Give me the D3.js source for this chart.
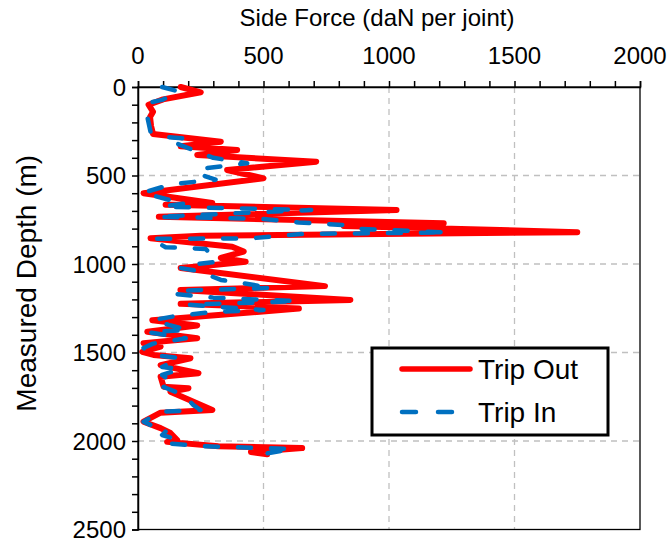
<!DOCTYPE html>
<html>
<head>
<meta charset="utf-8">
<script src="https://cdn.jsdelivr.net/npm/d3@7"></script>
<style>
    body { margin: 0; background: #fff; }
    text { font-family: "Liberation Sans", Arial, sans-serif; fill: #000; }
</style>
</head>
<body>
<div id="chart"></div>
<script>
// measured depth (m) and side force (daN per joint)
const depthOut = [0, 30, 70, 100, 140, 170, 220, 265, 309, 335, 356, 384, 422, 469, 516, 600, 655, 665, 695, 733,
    770, 785, 820, 840, 855, 902, 930, 966, 987, 1006, 1023, 1125, 1147, 1203, 1225, 1252, 1318, 1347, 1383, 1420,
    1447, 1467, 1496, 1514, 1533, 1571, 1617, 1637, 1693, 1702, 1722, 1758, 1825, 1840, 1891, 1927, 1955, 1995, 2005,
    2030, 2040, 2062, 2075];
const forceOut = [170, 250, 100, 42, 60, 48, 52, 60, 330, 170, 395, 236, 710, 355, 500, 22, 296, 110, 1030, 83,
    1218, 820, 1750, 250, 50, 375, 421, 330, 429, 301, 170, 745, 169, 846, 170, 641, 57, 236, 37, 236,
    22, 90, 17, 62, 209, 90, 241, 90, 102, 201, 129, 189, 296, 90, 22, 90, 129, 156, 116,
    320, 654, 450, 515];

const depthIn = [0, 26, 73, 90, 168, 253, 281, 290, 305, 345, 400, 431, 460, 488, 524, 545, 563, 598, 640, 657,
    676, 695, 733, 745, 765, 780, 800, 822, 830, 855, 858, 905, 915, 987, 1005, 1023, 1040, 1090, 1105, 1135,
    1150, 1168, 1190, 1210, 1230, 1260, 1271, 1294, 1316, 1344, 1373, 1385, 1420, 1450, 1475, 1514, 1531, 1582, 1593, 1627,
    1672, 1695, 1740, 1797, 1825, 1835, 1891, 1927, 1938, 1966, 1989, 2013, 2030, 2045, 2075, 2103];
const forceIn = [96, 163, 96, 42, 37, 50, 102, 176, 130, 200, 300, 435, 260, 236, 309, 160, 102, 20, 130, 190,
    100, 690, 76, 490, 640, 820, 860, 1232, 650, 450, 50, 110, 270, 316, 200, 170, 240, 330, 400, 535,
    180, 140, 300, 635, 200, 500, 300, 150, 62, 122, 200, 40, 190, 60, 22, 62, 165, 96, 170, 96,
    141, 102, 181, 221, 249, 90, 22, 76, 116, 96, 149, 116, 260, 614, 495, 521];

const forceTicks = [0, 500, 1000, 1500, 2000];
const depthTicks = [0, 500, 1000, 1500, 2000, 2500];

const seriesNames = ["Trip Out", "Trip In"];
const seriesColors = ["#ff0000", "#0070c0"];

class sideForceChart {
    constructor(parentElement) {
        this.parentElement = parentElement;
        this.series = [
            {name: seriesNames[0], color: seriesColors[0], values: depthOut.map((d, i) => ({depth: d, force: forceOut[i]}))},
            {name: seriesNames[1], color: seriesColors[1], values: depthIn.map((d, i) => ({depth: d, force: forceIn[i]}))}
        ];
    }

    initVis() {
        let vis = this;

        vis.margin = {top: 87, right: 31, bottom: 12.5, left: 138};
        vis.width = 671 - vis.margin.left - vis.margin.right;
        vis.height = 542 - vis.margin.top - vis.margin.bottom;

        vis.svg = d3.select("#" + vis.parentElement).append("svg")
            .attr("width", 671)
            .attr("height", 542)
            .append("g")
            .attr("transform", "translate(" + vis.margin.left + "," + vis.margin.top + ")");

        vis.x = d3.scaleLinear().domain([0, 2000]).range([0, vis.width]);
        vis.y = d3.scaleLinear().domain([0, 2500]).range([0, vis.height]);

        // dashed grid
        vis.svg.append("g").selectAll("line")
            .data(forceTicks.slice(1, -1))
            .enter().append("line")
            .attr("x1", d => vis.x(d)).attr("x2", d => vis.x(d))
            .attr("y1", 0).attr("y2", vis.height)
            .attr("stroke", "#c0c0c0").attr("stroke-width", 1.3).attr("stroke-dasharray", "6,5");
        vis.svg.append("g").selectAll("line")
            .data(depthTicks.slice(1, -1))
            .enter().append("line")
            .attr("y1", d => vis.y(d)).attr("y2", d => vis.y(d))
            .attr("x1", 0).attr("x2", vis.width)
            .attr("stroke", "#c0c0c0").attr("stroke-width", 1.3).attr("stroke-dasharray", "6,5");

        // border
        vis.svg.append("rect")
            .attr("width", vis.width).attr("height", vis.height)
            .attr("fill", "none").attr("stroke", "#000").attr("stroke-width", 1.3);

        // minor ticks every 100
        let xAxis = d3.axisTop(vis.x).tickValues(d3.range(0, 2001, 100))
            .tickSize(6).tickFormat("");
        let yAxis = d3.axisLeft(vis.y).tickValues(d3.range(0, 2501, 100))
            .tickSize(6).tickFormat("");
        [vis.svg.append("g").call(xAxis), vis.svg.append("g").call(yAxis)].forEach(g => {
            g.selectAll("path, line").attr("stroke", "#000").attr("stroke-width", 1.5);
        });

        // tick labels
        vis.svg.append("g").selectAll("text")
            .data(forceTicks)
            .enter().append("text")
            .attr("x", d => vis.x(d)).attr("y", -23)
            .attr("text-anchor", "middle")
            .style("font-size", "24px")
            .text(d => d);
        vis.svg.append("g").selectAll("text")
            .data(depthTicks)
            .enter().append("text")
            .attr("x", -12).attr("y", d => vis.y(d)).attr("dy", "0.36em")
            .attr("text-anchor", "end")
            .style("font-size", "24px")
            .text(d => d);

        vis.svg.append("text")
            .attr("x", vis.width / 2 - 12).attr("y", -61)
            .attr("text-anchor", "middle")
            .style("font-size", "24px")
            .text("Side Force (daN per joint)");
        vis.svg.append("text")
            .attr("transform", "translate(-112," + (vis.height / 2 - 25) + ") rotate(-90)")
            .attr("text-anchor", "middle")
            .attr("dy", "0.36em")
            .style("font-size", "28px")
            .text("Measured Depth (m)");

        vis.updateVis();
    }

    updateVis() {
        let vis = this;

        let line = d3.line()
            .x(d => vis.x(d.force))
            .y(d => vis.y(d.depth));

        vis.svg.selectAll(".series")
            .data(vis.series)
            .enter().append("path")
            .attr("class", "series")
            .attr("fill", "none")
            .attr("stroke", d => d.color)
            .attr("stroke-width", (d, i) => i === 0 ? 6 : 4.5)
            .attr("stroke-dasharray", (d, i) => i === 0 ? null : "13,20")
            .attr("stroke-linecap", "round")
            .attr("stroke-linejoin", "round")
            .attr("d", d => line(d.values));

        // legend
        let lg = vis.svg.append("g")
            .attr("transform", "translate(" + (372 - vis.margin.left) + "," + (348 - vis.margin.top) + ")");
        lg.append("rect")
            .attr("width", 236).attr("height", 87)
            .attr("fill", "#fff").attr("stroke", "#000").attr("stroke-width", 3);
        vis.series.forEach((s, i) => {
            let yy = 21 + i * 43;
            lg.append("line")
                .attr("x1", 30).attr("x2", 98).attr("y1", yy).attr("y2", yy)
                .attr("stroke", s.color)
                .attr("stroke-width", i === 0 ? 5.5 : 4.5)
                .attr("stroke-linecap", "round")
                .attr("stroke-dasharray", i === 0 ? null : "14,22");
            lg.append("text")
                .attr("x", 106).attr("y", yy).attr("dy", "0.36em")
                .style("font-size", "28px")
                .text(s.name);
        });
    }
}

let chart = new sideForceChart("chart");
chart.initVis();
</script>
</body>
</html>
